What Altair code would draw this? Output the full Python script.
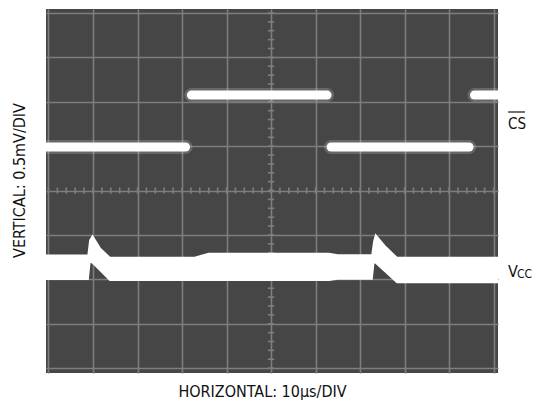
import altair as alt
import pandas as pd

# ---- data (units: divisions) ----
# CS trace: horizontal segments (start, end, level)
cs_start = [-0.06, 3.21, 6.35, 9.57]
cs_end = [3.08, 6.26, 9.45, 10.2]
cs_level = [4.98, 6.15, 4.98, 6.15]

# VCC trace: thick noisy band (x, top edge, bottom edge)
vcc_x = [-0.06, 0.89, 0.93, 0.99, 1.16, 1.38, 3.30, 3.60, 6.30, 6.50, 7.27, 7.31, 7.35, 7.56, 7.83, 10.1]
vcc_top = [2.54, 2.54, 2.88, 2.98, 2.70, 2.49, 2.50, 2.58, 2.58, 2.55, 2.55, 2.85, 3.00, 2.75, 2.49, 2.49]
vcc_bot = [2.00, 2.00, 2.39, 2.37, 2.20, 1.98, 1.98, 1.98, 1.98, 2.01, 2.01, 2.39, 2.37, 2.18, 1.93, 1.93]

# graticule
x_div = list(range(11))
y_div = list(range(9))
minor_x = [i / 5 for i in range(51)]
minor_y = [i / 5 for i in range(41)]

X_DOM = [-0.056, 10.1]
Y_DOM = [-0.11, 8.09]
BG = "#464646"
GRID = "#7e7e7e"
FONT = "Liberation Sans Narrow, DejaVu Sans Condensed, Roboto, sans-serif"

xs = alt.Scale(domain=X_DOM, nice=False, zero=False)
ys = alt.Scale(domain=Y_DOM, nice=False, zero=False)

grid_df = pd.DataFrame({"x": [0.0], "y": [0.0]})
grid = alt.Chart(grid_df).mark_point(opacity=0).encode(
    x=alt.X("x:Q", scale=xs, axis=alt.Axis(values=x_div, grid=True, gridColor=GRID, gridWidth=1.6,
                                           labels=False, ticks=False, domain=False, title=None)),
    y=alt.Y("y:Q", scale=ys, axis=alt.Axis(values=y_div, grid=True, gridColor=GRID, gridWidth=1.6,
                                           labels=False, ticks=False, domain=False, title=None)),
)

mx = pd.DataFrame({"x": minor_x})
mx["y"] = 4 - 0.07
mx["y2"] = 4 + 0.07
minor_h = alt.Chart(mx).mark_rule(color=GRID, strokeWidth=1.6).encode(
    x=alt.X("x:Q", scale=xs), y=alt.Y("y:Q", scale=ys), y2="y2:Q")

my = pd.DataFrame({"y": minor_y})
my["x"] = 5 - 0.07
my["x2"] = 5 + 0.07
minor_v = alt.Chart(my).mark_rule(color=GRID, strokeWidth=1.6).encode(
    y=alt.Y("y:Q", scale=ys), x=alt.X("x:Q", scale=xs), x2="x2:Q")

vcc_df = pd.DataFrame({"x": vcc_x, "top": vcc_top, "bot": vcc_bot})
vcc = alt.Chart(vcc_df).mark_area(color="white", stroke="white", strokeWidth=1.5, clip=True).encode(
    x=alt.X("x:Q", scale=xs), y=alt.Y("top:Q", scale=ys), y2="bot:Q")

cs_df = pd.DataFrame({"x": cs_start, "x2": cs_end, "y": cs_level})
cs_glow = alt.Chart(cs_df).mark_rule(color="white", strokeWidth=14, opacity=0.18, strokeCap="round", clip=True).encode(
    x=alt.X("x:Q", scale=xs), x2="x2:Q", y=alt.Y("y:Q", scale=ys))
cs = alt.Chart(cs_df).mark_rule(color="white", strokeWidth=9, strokeCap="round", clip=True).encode(
    x=alt.X("x:Q", scale=xs), x2="x2:Q", y=alt.Y("y:Q", scale=ys))

txt_df = pd.DataFrame({"a": [0]})
def label(text, x, y, size, angle=0, align="left", baseline="alphabetic"):
    kw = dict(text=text, font=FONT, fontSize=size, color="#111111", align=align, baseline=baseline)
    if angle:
        kw["angle"] = angle
    return alt.Chart(txt_df).mark_text(**kw).encode(x=alt.value(x), y=alt.value(y))

t_h = label("HORIZONTAL: 10µs/DIV", 216.5, 387.5, 16, align="center")
t_v = label("VERTICAL: 0.5mV/DIV", -26.5, 171.5, 16, angle=270, align="center", baseline="middle")
t_cs = label("CS", 462, 119.5, 15)
t_cs_bar = alt.Chart(txt_df).mark_rule(color="#111111", strokeWidth=1.2).encode(
    x=alt.value(462), x2=alt.value(479), y=alt.value(103))
t_v1 = label("V", 462, 268, 16)
t_v2 = label("CC", 471, 269, 12)

chart = alt.layer(
    grid, minor_h, minor_v, vcc, cs_glow, cs, t_h, t_v, t_cs, t_cs_bar, t_v1, t_v2
).properties(
    width=452, height=364,
    autosize=alt.AutoSizeParams(type="none"),
    padding={"left": 38, "top": 1, "right": 34, "bottom": 28},
).configure_view(fill=BG, stroke=None)

chart.save("out.html", embed_options={"renderer": "svg", "actions": False})
